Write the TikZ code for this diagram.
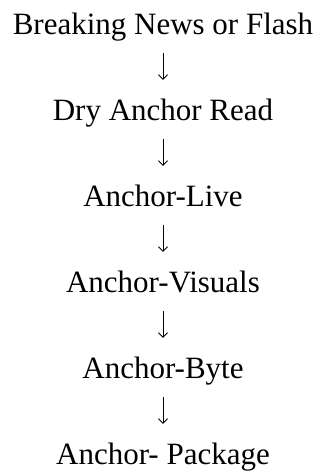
\documentclass[tikz,border=0pt]{standalone}
\usepackage{fontspec}
\setmainfont{Liberation Serif}
\usepackage{tikz}
\usetikzlibrary{arrows.meta, positioning}
\tikzstyle{stage} = [inner sep=0pt, text height=21pt, text depth=6.6pt,
    font=\fontsize{31}{36}\selectfont]
\tikzstyle{flow} = [draw, line width=0.8pt, shorten <=11.4pt, shorten >=20pt,
    -{Straight Barb[length=4.5pt, width=9pt]}]

\begin{document}
\begin{tikzpicture}[node distance=86pt]
    \useasboundingbox (0,0) rectangle (324pt,472pt);
    \node [stage] (news) at (163pt,444.2pt) {Breaking News or Flash};
    \node [stage, below of=news] (dry) {Dry Anchor Read};
    \node [stage, below of=dry] (live) {Anchor-Live};
    \node [stage, below of=live] (visuals) {Anchor-Visuals};
    \node [stage, below of=visuals] (byte) {Anchor-Byte};
    \node [stage, below of=byte] (package) {Anchor- Package};
    \draw [flow] (news) -- (dry);
    \draw [flow] (dry) -- (live);
    \draw [flow] (live) -- (visuals);
    \draw [flow] (visuals) -- (byte);
    \draw [flow] (byte) -- (package);
\end{tikzpicture}
\end{document}
